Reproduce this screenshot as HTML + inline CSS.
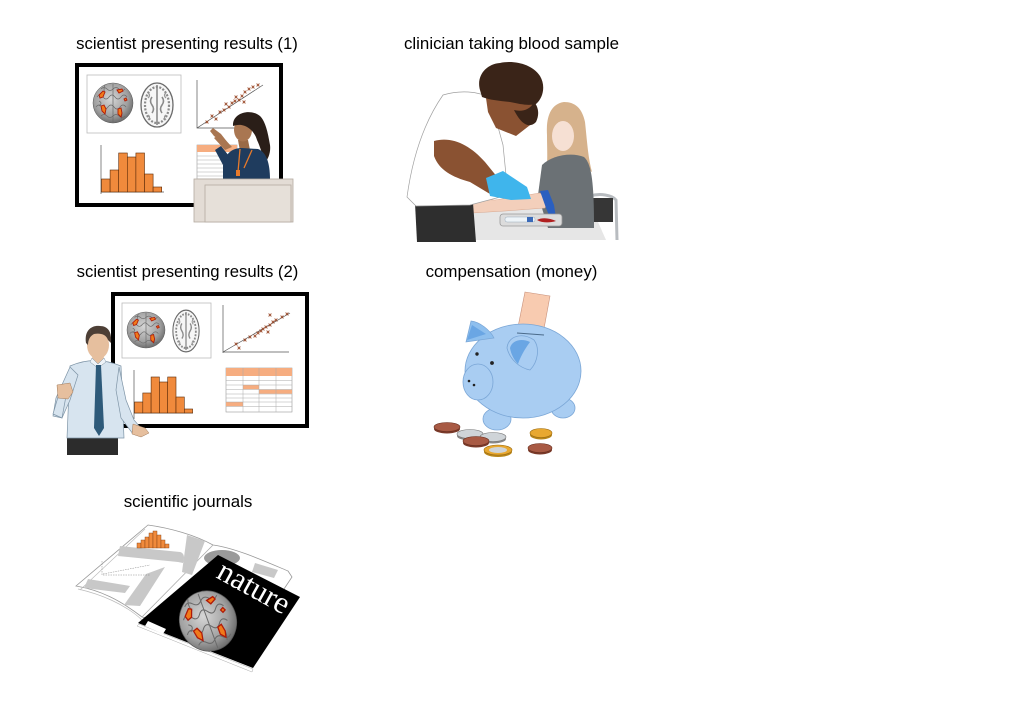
<!DOCTYPE html>
<html><head><meta charset="utf-8"><style>
html,body{margin:0;padding:0;background:#fff;}
svg{display:block;}
text{font-family:"Liberation Sans",Arial,sans-serif;}
text.serif{font-family:"Liberation Serif","Times New Roman",serif;}
</style></head><body>
<svg width="1024" height="723" viewBox="0 0 1024 723" xmlns="http://www.w3.org/2000/svg">
<defs>
<radialGradient id="brg" cx="45%" cy="40%" r="60%">
<stop offset="0" stop-color="#d6d6d6"/><stop offset="0.7" stop-color="#a0a0a0"/><stop offset="1" stop-color="#6e6e6e"/>
</radialGradient>
<g id="cb">
<ellipse rx="20" ry="20" fill="url(#brg)" stroke="#555" stroke-width="0.5"/>
<path d="M-16,-6 q3,-4 6,0 q3,4 6,0 q3,-4 6,0 q3,4 6,0 q3,-4 6,0 M-17,4 q3,-4 6,0 q3,4 6,0 q3,-4 6,0 q3,4 6,0 q3,-4 6,0 M-12,-14 q3,-3 6,0 q3,3 6,0 q3,-3 6,0 q3,3 6,0 M-12,13 q3,-3 6,0 q3,3 6,0 q3,-3 6,0 q3,3 6,0 M0,-19 L0,19 M-8,-18 q-2,4 0,8 M8,8 q2,4 0,8 M-14,-2 q4,2 0,5" stroke="#6a6a6a" stroke-width="0.7" fill="none"/>
<path d="M-14,-8 l4,-4 l2,1 l-2,5 l-3,1 Z M-12,3 l3,-1 l2,4 l-1,5 l-3,-3 Z M4,-13 l5,-1 l1,2 l-4,2 Z M5,6 l3,-1 l1,5 l-1,4 l-3,-3 Z M11,-4 l2,-1 l1,2 l-2,1 Z" fill="#f07a1a" stroke="#b01a08" stroke-width="0.9"/>
</g>
<g id="sb">
<ellipse rx="16" ry="22" fill="#f6f6f6" stroke="#6a6a6a" stroke-width="1.3"/>
<ellipse rx="12" ry="18" fill="none" stroke="#8a8a8a" stroke-width="2.2" stroke-dasharray="2 1.5"/>
<path d="M-5,-8 q-3,4 0,8 q3,4 0,8 M5,-8 q3,4 0,8 q-3,4 0,8 M0,-20 L0,20" stroke="#8a8a8a" fill="none" stroke-width="1.6"/>
<path d="M-9,-12 q3,2 0,5 M9,-12 q-3,2 0,5 M-9,10 q3,2 0,5 M9,10 q-3,2 0,5" stroke="#999" fill="none" stroke-width="1.3"/>
</g>
<path id="xm" d="M-1.4,-1.4 L1.4,1.4 M-1.4,1.4 L1.4,-1.4" stroke="#9a4a2a" stroke-width="0.9"/>
</defs>

<!-- LABELS -->
<text x="187" y="49" font-size="16.7" text-anchor="middle">scientist presenting results (1)</text>
<text x="511.5" y="49" font-size="16.9" text-anchor="middle">clinician taking blood sample</text>
<text x="187.5" y="277" font-size="16.7" text-anchor="middle">scientist presenting results (2)</text>
<text x="511.5" y="277" font-size="16.9" text-anchor="middle">compensation (money)</text>
<text x="188" y="507" font-size="16.9" text-anchor="middle">scientific journals</text>

<!-- PANEL 1 -->
<rect x="77" y="65" width="204" height="140" fill="#fff" stroke="#000" stroke-width="4"/>
<rect x="87" y="75" width="94" height="58" fill="#fff" stroke="#bbb" stroke-width="0.8"/>
<use href="#cb" transform="translate(113,103)"/>
<use href="#sb" transform="translate(157,105)"/>
<path d="M197,80 L197,128 L235,128 M197,128 L263,85" stroke="#555" stroke-width="0.7" fill="none"/>
<g>
<use href="#xm" x="207" y="122"/><use href="#xm" x="212" y="116"/><use href="#xm" x="216" y="119"/><use href="#xm" x="220" y="112"/><use href="#xm" x="224" y="110"/><use href="#xm" x="226" y="104"/><use href="#xm" x="229" y="107"/><use href="#xm" x="232" y="103"/><use href="#xm" x="235" y="101"/><use href="#xm" x="236" y="97"/><use href="#xm" x="239" y="100"/><use href="#xm" x="242" y="96"/><use href="#xm" x="245" y="92"/><use href="#xm" x="249" y="89"/><use href="#xm" x="253" y="87"/><use href="#xm" x="258" y="85"/><use href="#xm" x="244" y="102"/>
</g>
<path d="M101,145 L101,194 M101,192 L164,192" stroke="#555" stroke-width="0.7"/>
<g fill="#f08a3c" stroke="#5a2a08" stroke-width="0.6">
<rect x="101.5" y="179" width="8.6" height="13"/>
<rect x="110.1" y="170" width="8.6" height="22"/>
<rect x="118.7" y="153" width="8.6" height="39"/>
<rect x="127.3" y="157" width="8.6" height="35"/>
<rect x="135.9" y="153" width="8.6" height="39"/>
<rect x="144.5" y="174" width="8.6" height="18"/>
<rect x="153.1" y="187" width="8.6" height="5"/>
</g>
<rect x="197" y="145" width="40" height="34" fill="#fff" stroke="#999" stroke-width="0.6"/>
<rect x="197" y="145" width="40" height="7" fill="#f6ad80"/>
<path d="M197,156 H237 M197,160 H237 M197,164 H237 M197,168 H237 M197,172 H237 M197,176 H237" stroke="#aaa" stroke-width="0.5"/>
<!-- woman -->
<path d="M222,142 L214,136 L210,131 L213,128 L217,131 L221,134 L228,143 Z" fill="#a97651"/>
<path d="M225,150 L214,138 L220,134 L232,147 Z" fill="#a97651"/>
<path d="M238,140 L248,140 L250,150 L240,151 Z" fill="#9a6a46"/>
<ellipse cx="243" cy="130" rx="9" ry="11.5" fill="#a97651"/>
<path d="M233,126 C232,113 250,108 260,116 C266,122 268,134 270,145 C271,152 268,160 265,162 C262,154 260,146 257,140 C255,133 250,128 245,126 C240,124 236,125 233,126 Z" fill="#2a1e18"/>
<path d="M223,165 C226,152 233,148 242,148 L258,149 C266,152 270,162 270,180 L223,180 Z" fill="#1f3c5e"/>
<path d="M223,165 L215,150 L221,146 L229,156 Z" fill="#1f3c5e"/>
<path d="M240,149 L238,172 M252,150 L244,168" stroke="#e87a2a" stroke-width="1.3" fill="none"/>
<rect x="236" y="170" width="4" height="6" fill="#e87a2a"/>
<!-- podium -->
<rect x="194" y="179" width="99" height="43" fill="#e3dcd5" stroke="#b4aaa0" stroke-width="0.8"/>
<rect x="205" y="185" width="86" height="37" fill="#e6e0d9" stroke="#b4aaa0" stroke-width="0.8"/>

<!-- PANEL 2 : blood sample -->
<path d="M470,210 L590,204 L606,240 L470,240 Z" fill="#e6e6e6"/>
<path d="M590,196 C600,193 612,195 616,200 L617,240" stroke="#b8bcc0" stroke-width="3" fill="none"/>
<rect x="593" y="198" width="20" height="24" fill="#363636"/>
<!-- patient -->
<path d="M564,102 C550,104 546,118 547,135 C547,150 548,162 546,174 L556,168 L582,166 L592,172 C588,158 587,140 585,122 C582,108 575,102 564,102 Z" fill="#d6b28c"/>
<ellipse cx="563" cy="136" rx="11" ry="15" fill="#f6e0d3"/>
<path d="M551,124 C556,116 570,114 577,122 C576,112 568,106 562,107 C555,109 551,116 551,124 Z" fill="#d6b28c"/>
<path d="M542,165 C552,155 572,152 584,157 C592,164 594,185 594,228 L548,228 L538,195 Z" fill="#6b7175"/>
<path d="M458,207 C462,200 475,199 495,200 L540,193 L548,200 L545,208 L505,211 L472,213 C464,213 459,211 458,207 Z" fill="#f3cfbb" stroke="#d8a890" stroke-width="0.5"/>
<path d="M540,191 L548,190 L554,205 L556,218 L551,220 L546,208 Z" fill="#2a5fc0"/>
<rect x="500" y="214" width="62" height="12" rx="3" fill="#dcdcdc" stroke="#999" stroke-width="0.8"/>
<rect x="505" y="217" width="30" height="5" rx="2" fill="#eef4f8" stroke="#9aaabb" stroke-width="0.5"/>
<rect x="527" y="217" width="6" height="5" fill="#3a6ab8"/>
<path d="M537,220 C542,217 550,218 556,221 C550,223 542,223 537,220 Z" fill="#b02020"/>
<!-- clinician -->
<path d="M415,203 L473,203 L476,242 L417,242 Z" fill="#2e2e2e"/>
<path d="M443,95 C460,90 478,91 490,98 L503,145 L508,195 L470,205 L416,206 L407,197 C411,168 420,128 443,95 Z" fill="#fff" stroke="#a0a0a0" stroke-width="0.7"/>
<path d="M434,141 C452,136 470,145 485,162 L498,178 L490,194 L470,182 C452,177 439,170 434,156 Z" fill="#8a5232"/>
<path d="M486,98 L536,100 L534,122 L516,136 L496,128 L488,112 Z" fill="#8a5232"/>
<path d="M486,178 L503,171 L527,187 L531,199 L511,200 L490,196 Z" fill="#3fb5ec"/>
<path d="M480,90 C476,76 486,64 500,63 C514,60 532,64 540,76 C546,86 543,98 536,104 C528,106 520,104 510,102 C500,101 490,100 482,97 Z" fill="#3a2418"/>
<path d="M514,110 C520,122 528,130 536,122 C540,114 538,106 534,102 C530,110 522,112 514,110 Z" fill="#3a2418"/>

<!-- PANEL 3 -->
<rect x="113" y="294" width="194" height="132" fill="#fff" stroke="#000" stroke-width="4"/>
<rect x="122" y="303" width="89" height="55" fill="#fff" stroke="#bbb" stroke-width="0.8"/>
<use href="#cb" transform="translate(146,330) scale(0.95,0.9)"/>
<use href="#sb" transform="translate(186,331) scale(0.82,0.95)"/>
<path d="M223,305 L223,353 M223,352 L289,352 M223,352 L290,313" stroke="#555" stroke-width="0.7" fill="none"/>
<g>
<use href="#xm" x="236" y="344"/><use href="#xm" x="239" y="348"/><use href="#xm" x="245" y="340"/><use href="#xm" x="250" y="337"/><use href="#xm" x="255" y="336"/><use href="#xm" x="258" y="333"/><use href="#xm" x="261" y="331"/><use href="#xm" x="263" y="329"/><use href="#xm" x="266" y="327"/><use href="#xm" x="268" y="332"/><use href="#xm" x="270" y="325"/><use href="#xm" x="273" y="322"/><use href="#xm" x="276" y="320"/><use href="#xm" x="282" y="317"/><use href="#xm" x="287" y="314"/><use href="#xm" x="270" y="315"/>
</g>
<path d="M134,370 L134,419 M134,413 L193,413" stroke="#555" stroke-width="0.7"/>
<g fill="#f08a3c" stroke="#5a2a08" stroke-width="0.6">
<rect x="134.5" y="402" width="8.3" height="11"/>
<rect x="142.8" y="393" width="8.3" height="20"/>
<rect x="151.1" y="377" width="8.3" height="36"/>
<rect x="159.4" y="382" width="8.3" height="31"/>
<rect x="167.7" y="377" width="8.3" height="36"/>
<rect x="176" y="397" width="8.3" height="16"/>
<rect x="184.3" y="409" width="8.3" height="4"/>
</g>
<rect x="226" y="368" width="66" height="44" fill="#fff" stroke="#999" stroke-width="0.6"/>
<rect x="226" y="368" width="66" height="8" fill="#f6ad80"/>
<rect x="243" y="385" width="16" height="4.3" fill="#f6ad80"/>
<rect x="259" y="389.5" width="33" height="4.3" fill="#f6ad80"/>
<rect x="226" y="402" width="17" height="4.3" fill="#f6ad80"/>
<path d="M226,380.5 H292 M226,385 H292 M226,389.5 H292 M226,394 H292 M226,398 H292 M226,402 H292 M226,406.5 H292 M243,368 V412 M259,368 V412 M276,368 V412" stroke="#aaa" stroke-width="0.5"/>
<!-- man -->
<rect x="67" y="434" width="51" height="21" fill="#2c2c2c"/>
<path d="M70,366 Q95,355 121,366 L124,438 L67,438 Z" fill="#d7e4ef" stroke="#7e94a6" stroke-width="0.7"/>
<path d="M70,367 L56,398 L53,416 L62,418 L70,400 L78,375 Z" fill="#d7e4ef" stroke="#7e94a6" stroke-width="0.7"/>
<path d="M53,414 L58,397 L66,396 L62,418 Z" fill="#d7e4ef" stroke="#7e94a6" stroke-width="0.7"/>
<path d="M57,385 L70,383 L73,392 L68,399 L58,398 Z" fill="#e6bf9e" stroke="#a07a5a" stroke-width="0.5"/>
<path d="M119,367 L126,400 L134,420 L140,427 L133,434 L121,418 L116,390 Z" fill="#d7e4ef" stroke="#7e94a6" stroke-width="0.7"/>
<path d="M133,424 L145,428 L149,433 L141,437 L132,434 Z" fill="#e6bf9e" stroke="#a07a5a" stroke-width="0.5"/>
<path d="M92,356 L104,356 L103,365 L93,365 Z" fill="#e6bf9e"/>
<path d="M90,362 L98,368 L106,362 L104,358 L98,364 L92,358 Z" fill="#eef3f8" stroke="#7e94a6" stroke-width="0.5"/>
<path d="M96,365 L101,365 L104,428 L99,436 L94,428 Z" fill="#2e5a7a"/>
<ellipse cx="98" cy="345" rx="11" ry="14" fill="#e6bf9e"/>
<path d="M86,343 C84,330 92,325 100,326 C108,326 112,332 111,343 L108,340 C106,334 100,333 94,334 C90,336 88,340 88,345 Z" fill="#4d3f36"/>

<!-- PANEL 4 : piggy bank -->
<path d="M525,292 L550,296 L543,334 L517,332 Z" fill="#f8cbb0" stroke="#c8907a" stroke-width="0.6"/>
<ellipse cx="497" cy="419" rx="14" ry="11" fill="#a9cdf2" stroke="#7aa6d6" stroke-width="0.8"/>
<ellipse cx="563" cy="408" rx="12" ry="10" fill="#a9cdf2" stroke="#7aa6d6" stroke-width="0.8"/>
<ellipse cx="523" cy="371" rx="58" ry="47" fill="#a9cdf2" stroke="#7aa6d6" stroke-width="0.8"/>
<path d="M466,342 L471,321 C480,322 490,330 494,338 Z" fill="#8ebfee" stroke="#7aa6d6" stroke-width="0.7"/>
<path d="M467,340 L472,325 L486,334 Z" fill="#6aa6e4"/>
<path d="M507,348 C508,336 522,332 534,340 C540,348 538,362 530,370 C520,368 510,360 507,348 Z" fill="#a9cdf2" stroke="#7aa6d6" stroke-width="0.8"/>
<path d="M510,348 C512,340 522,338 530,342 C524,350 520,358 518,364 C514,360 511,354 510,348 Z" fill="#6aa6e4"/>
<ellipse cx="478" cy="382" rx="15" ry="18" fill="#a9cdf2" stroke="#7aa6d6" stroke-width="0.8"/>
<circle cx="469" cy="381" r="1.3" fill="#222"/><circle cx="474" cy="385" r="1.3" fill="#222"/>
<circle cx="477" cy="354" r="1.7" fill="#222"/><circle cx="492" cy="363" r="1.9" fill="#222"/>
<path d="M517,333 L544,335" stroke="#4a6a8a" stroke-width="1"/>
<g stroke-width="0.6">
<ellipse cx="447" cy="429" rx="13" ry="4.5" fill="#7a3a2a"/><ellipse cx="447" cy="427" rx="13" ry="4.5" fill="#a85a44" stroke="#6a3020"/>
<ellipse cx="470" cy="436" rx="13" ry="4.5" fill="#888"/><ellipse cx="470" cy="434" rx="13" ry="4.5" fill="#cfd4d8" stroke="#777"/>
<ellipse cx="493" cy="439" rx="13" ry="4.5" fill="#888"/><ellipse cx="493" cy="437" rx="13" ry="4.5" fill="#cfd4d8" stroke="#777"/>
<ellipse cx="476" cy="443" rx="13" ry="4.5" fill="#7a3a2a"/><ellipse cx="476" cy="441" rx="13" ry="4.5" fill="#a85a44" stroke="#6a3020"/>
<ellipse cx="498" cy="452" rx="14" ry="5" fill="#b8861a"/><ellipse cx="498" cy="450" rx="14" ry="5" fill="#e8a830" stroke="#9a6a10"/><ellipse cx="498" cy="450" rx="9" ry="3" fill="#cfd4d8"/>
<ellipse cx="541" cy="435" rx="11" ry="4.5" fill="#b8861a"/><ellipse cx="541" cy="433" rx="11" ry="4.5" fill="#e8a830" stroke="#9a6a10"/>
<ellipse cx="540" cy="450" rx="12" ry="4.5" fill="#7a3a2a"/><ellipse cx="540" cy="448" rx="12" ry="4.5" fill="#a85a44" stroke="#6a3020"/>
</g>

<!-- PANEL 5 : journals -->
<path d="M148,525 C170,528 195,535 213,545 C235,548 262,560 288,571 L292,577 L250,640 L142,617 C120,600 100,590 76,586 Z" fill="#fff" stroke="#999" stroke-width="0.8"/>
<path d="M145,529 L80,590 M78,589 C100,594 125,604 142,620" stroke="#bbb" stroke-width="0.7" fill="none"/>
<path d="M213,545 L142,617" stroke="#aaa" stroke-width="0.8"/>
<g fill="#c8c8c8">
<path d="M120,546 L180,552 C184,553 185,557 183,563 L178,562 L118,556 Z"/>
<path d="M187,535 L205,541 L192,575 L182,572 Z"/>
<path d="M146,574 L165,567 L140,606 L124,605 Z"/>
<path d="M88,579 L130,586 L125,593 L84,588 Z"/>
<path d="M212,572 L230,577 L210,600 L200,598 Z"/>
<path d="M255,563 L278,570 L274,578 L252,572 Z"/>
</g>
<g fill="#f08a3c" stroke="#7a3a10" stroke-width="0.4">
<rect x="137" y="543" width="4" height="5"/><rect x="141" y="540" width="4" height="8"/><rect x="145" y="537" width="4" height="11"/><rect x="149" y="533" width="4" height="15"/><rect x="153" y="531" width="4" height="17"/><rect x="157" y="535" width="4" height="13"/><rect x="161" y="540" width="4" height="8"/><rect x="165" y="544" width="4" height="4"/>
</g>
<path d="M102,561 L102,575 L150,575 M103,574 L150,565" stroke="#888" stroke-width="0.5" fill="none" stroke-dasharray="1.5 1"/>
<ellipse cx="222" cy="558" rx="18" ry="8" fill="#9a9a9a"/>
<path d="M139,624 L253,669 L252,672 L137,626 Z" fill="#fff" stroke="#aaa" stroke-width="0.5"/>
<path d="M218,555 L300,597 L253,668 L138,623 Z" fill="#000"/>
<text class="serif" x="215" y="577" font-size="31" fill="#fff" transform="rotate(29 215 577)" textLength="78" lengthAdjust="spacingAndGlyphs">nature</text>
<g transform="translate(208,621) rotate(-20) scale(1.42,1.52)">
<use href="#cb"/>
</g>
<path d="M148,621 L166,629 L163,634 L145,626 Z" fill="#fff"/>
</svg>
</body></html>
